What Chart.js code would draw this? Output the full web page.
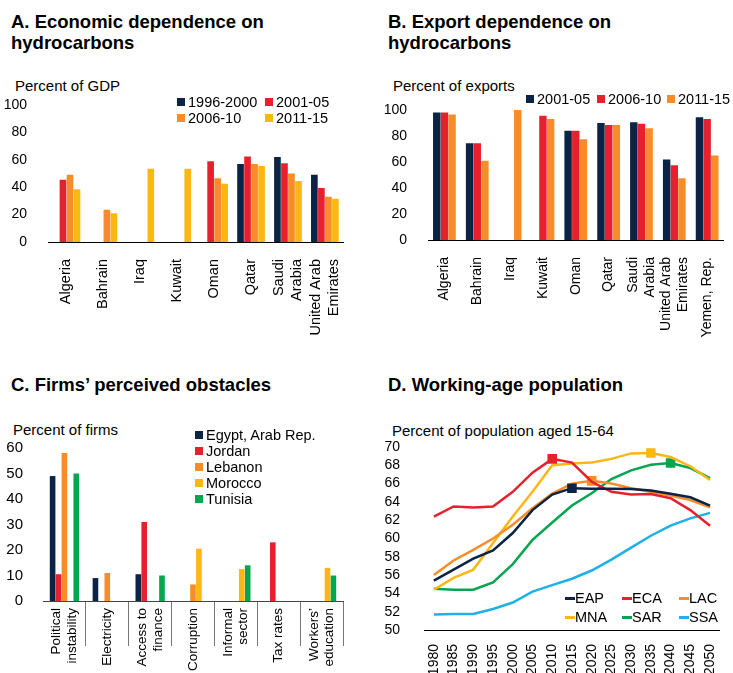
<!DOCTYPE html>
<html>
<head>
<meta charset="utf-8">
<script src="https://cdn.jsdelivr.net/npm/chart.js@4/dist/chart.umd.min.js"></script>
<style>
  body { margin: 0; background: #fff; font-family: "Liberation Sans", Arial, sans-serif; color: #000; }
  #page { position: relative; width: 733px; height: 673px; overflow: hidden; }
  .box { position: absolute; }
  .title { position: absolute; font-weight: bold; font-size: 18.5px; line-height: 21px; white-space: nowrap; }
  .unit { position: absolute; font-size: 15px; line-height: 18px; white-space: nowrap; }
  .lg { position: absolute; font-size: 14.5px; line-height: 18px; white-space: nowrap; padding-left: 11px; }
  .lg i { position: absolute; left: 0; top: 5px; width: 8px; height: 8px; }
  .lg.line { padding-left: 10px; }
  .lg.line i { top: 8px; width: 10px; height: 3px; }
</style>
</head>
<body>
<div id="page">
  <div class="title" style="left:11px;top:11px">A. Economic dependence on<br>hydrocarbons</div>
  <div class="title" style="left:388px;top:11px">B. Export dependence on<br>hydrocarbons</div>
  <div class="title" style="left:11px;top:374px">C. Firms’ perceived obstacles</div>
  <div class="title" style="left:388px;top:374px">D. Working-age population</div>

  <div class="unit" style="left:15px;top:77px">Percent of GDP</div>
  <div class="unit" style="left:393px;top:77px">Percent of exports</div>
  <div class="unit" style="left:13px;top:421px">Percent of firms</div>
  <div class="unit" style="left:392px;top:422px">Percent of population aged 15-64</div>

  <div class="box" style="left:0;top:60px"><canvas id="chartA" width="370" height="300"></canvas></div>
  <div class="box" style="left:375px;top:60px"><canvas id="chartB" width="358" height="300"></canvas></div>
  <div class="box" style="left:0;top:415px"><canvas id="chartC" width="370" height="258"></canvas></div>
  <div class="box" style="left:375px;top:415px"><canvas id="chartD" width="358" height="258"></canvas></div>
</div>
<script>
// A. Economic dependence on hydrocarbons (percent of GDP)
const gdpCountries = ['Algeria', 'Bahrain', 'Iraq', 'Kuwait', 'Oman', 'Qatar', ['Saudi', 'Arabia'], ['United Arab', 'Emirates']];
const gdpPeriods = ['1996-2000', '2001-05', '2006-10', '2011-15'];
const gdp1996 = [null, null, null, null, null, 57, 62, 49];
const gdp2001 = [45.5, null, null, null, 59, 62.5, 57.5, 39.5];
const gdp2006 = [49, 23.5, null, null, 46.5, 57, 50, 33];
const gdp2011 = [38.5, 21, 53.5, 53.5, 42.5, 55.5, 44.5, 31.5];

// B. Export dependence on hydrocarbons (percent of exports)
const expCountries = ['Algeria', 'Bahrain', 'Iraq', 'Kuwait', 'Oman', 'Qatar', ['Saudi', 'Arabia'], ['United Arab', 'Emirates'], 'Yemen, Rep.'];
const expPeriods = ['2001-05', '2006-10', '2011-15'];
const exp2001 = [98, 74.5, null, null, 84, 90, 90.5, 62, 94.5];
const exp2006 = [98, 74.5, null, 95.5, 84, 88.5, 89.5, 57.5, 93];
const exp2011 = [96.5, 61, 100, 93, 77.5, 88.5, 86, 47.5, 65];

// C. Firms' perceived obstacles (percent of firms)
const obstacles = [['Political', 'instability'], 'Electricity', ['Access to', 'finance'], 'Corruption', ['Informal', 'sector'], 'Tax rates', ['Workers’', 'education']];
const firmCountries = ['Egypt, Arab Rep.', 'Jordan', 'Lebanon', 'Morocco', 'Tunisia'];
const egypt = [49, 9, 10.5, null, null, null, null];
const jordan = [10.5, null, 31, null, null, 23, null];
const lebanon = [58, 11, null, 6.5, null, null, null];
const morocco = [null, null, null, 20.5, 12.5, null, 13];
const tunisia = [50, null, 10, null, 14, null, 10];

// D. Working-age population (percent of population aged 15-64)
const years = ['1980', '1985', '1990', '1995', '2000', '2005', '2010', '2015', '2020', '2025', '2030', '2035', '2040', '2045', '2050'];
const regions = ['EAP', 'ECA', 'LAC', 'MNA', 'SAR', 'SSA'];
const eap = [55.4, 56.6, 57.8, 58.7, 60.6, 63.1, 64.8, 65.5, 65.45, 65.45, 65.4, 65.25, 64.9, 64.5, 63.6];
const eca = [62.4, 63.5, 63.4, 63.5, 65.1, 67.2, 68.7, 68.3, 66.2, 65.1, 64.8, 64.85, 64.4, 63.1, 61.4];
const lac = [56.0, 57.6, 58.75, 60.0, 61.5, 63.3, 64.9, 66.0, 66.3, 66.0, 65.5, 65.1, 64.7, 64.2, 63.4];
const mna = [54.4, 55.7, 56.6, 59.5, 62.4, 65.1, 68.0, 68.2, 68.3, 68.7, 69.3, 69.35, 68.9, 67.9, 66.4];
const sar = [54.5, 54.4, 54.4, 55.2, 57.2, 59.85, 61.75, 63.6, 64.95, 66.5, 67.45, 68.05, 68.25, 67.7, 66.6];
const ssa = [51.7, 51.75, 51.75, 52.3, 53.0, 54.2, 54.9, 55.6, 56.5, 57.7, 59.0, 60.3, 61.4, 62.2, 62.8];
const peakYears = ['2015', '2010', '2020', '2035', '2040', null];

const NAVY = '#0b2345', RED = '#e8202e', ORANGE = '#f68d2a', YELLOW = '#fcb714', GREEN = '#06a550', BLUE = '#1eb0e6';

Chart.defaults.font.family = '"Liberation Sans", Arial, sans-serif';
Chart.defaults.color = '#000';
Chart.defaults.animation = false;
Chart.defaults.plugins.legend.display = false;
Chart.defaults.plugins.tooltip.enabled = false;

// rotated multi-line labels: centre the block of lines on the tick
const centerLines = {
  id: 'centerLines',
  beforeDraw(chart) {
    chart.scales.x.getLabelItems().forEach(it => {
      if (Array.isArray(it.label) && !it._done) {
        it.options.translation[0] -= (it.label.length - 1) * it.font.lineHeight / 2;
        it._done = true;
      }
    });
  }
};

const page = document.getElementById('page');
function legend(names, colors, spots, line) {
  names.forEach((name, i) => {
    const d = document.createElement('div');
    d.className = line ? 'lg line' : 'lg';
    d.style.left = spots[i][0] + 'px';
    d.style.top = (spots[i][1] - 9) + 'px';
    d.innerHTML = '<i style="background:' + colors[i] + '"></i>' + name;
    page.appendChild(d);
  });
}

function barChart(id, labels, names, series, colors, o) {
  return new Chart(document.getElementById(id), {
    type: 'bar',
    data: {
      labels: labels,
      datasets: series.map((s, i) => ({
        label: names[i], data: s, backgroundColor: colors[i],
        categoryPercentage: o.cat, barPercentage: o.bar
      }))
    },
    options: {
      responsive: false,
      layout: { padding: o.pad },
      scales: {
        x: {
          grid: o.xgrid || { display: false },
          border: { display: true, color: o.axisColor || '#000', width: 1 },
          ticks: { autoSkip: false, minRotation: 90, maxRotation: 90, padding: o.tickPad, font: { size: o.xfont, lineHeight: o.xlh || 1.2 } },
          afterFit: s => { s.height = o.xh; }
        },
        y: {
          min: 0, max: o.max,
          grid: { display: false },
          border: { display: false },
          ticks: { autoSkip: false, stepSize: o.step, padding: o.ypad, font: { size: o.yfont } },
          afterFit: s => { s.width = o.yw; }
        }
      }
    },
    plugins: [centerLines]
  });
}

barChart('chartA', gdpCountries, gdpPeriods, [gdp1996, gdp2001, gdp2006, gdp2011], [NAVY, RED, ORANGE, YELLOW],
  { cat: 0.76, bar: 0.95, pad: { top: 45, right: 21, left: 0, bottom: 0 }, xh: 118, yw: 48, max: 100, step: 20,
    tickPad: 9, xfont: 14.5, yfont: 14, ypad: 13 });
legend(gdpPeriods, [NAVY, RED, ORANGE, YELLOW], [[177, 102], [265, 102], [177, 118], [265, 118]]);

barChart('chartB', expCountries, expPeriods, [exp2001, exp2006, exp2011], [NAVY, RED, ORANGE],
  { cat: 0.7, bar: 0.97, pad: { top: 50, right: 1, left: 0, bottom: 0 }, xh: 120, yw: 53, max: 100, step: 20,
    tickPad: 9, xfont: 14, yfont: 14, ypad: 13 });
legend(expPeriods, [NAVY, RED, ORANGE], [[526, 99], [597, 99], [667, 99]]);

barChart('chartC', obstacles, firmCountries, [egypt, jordan, lebanon, morocco, tunisia], [NAVY, RED, ORANGE, YELLOW, GREEN],
  { cat: 0.69, bar: 0.95, pad: { top: 33, right: 27, left: 0, bottom: 0 }, xh: 72, yw: 43, max: 60, step: 10,
    tickPad: -38, xfont: 13.5, xlh: 1.15, yfont: 15, ypad: 12, axisColor: '#444',
    xgrid: {
      display: true, drawOnChartArea: false, drawTicks: true, tickLength: 45, offset: true,
      color: ctx => ctx.index === 0 ? 'rgba(0,0,0,0)' : (ctx.index === obstacles.length ? '#222' : '#777'),
      lineWidth: ctx => ctx.index === obstacles.length ? 2 : 1
    } });
legend(firmCountries, [NAVY, RED, ORANGE, YELLOW, GREEN], [[195, 435], [195, 451], [195, 467], [195, 483], [195, 499]]);

const lineSeries = [eap, eca, lac, mna, sar, ssa];
const lineColors = [NAVY, RED, ORANGE, YELLOW, GREEN, BLUE];
new Chart(document.getElementById('chartD'), {
  type: 'line',
  data: {
    labels: years,
    datasets: lineSeries.map((s, i) => ({
      label: regions[i], data: s, borderColor: lineColors[i], backgroundColor: lineColors[i],
      borderWidth: 2.5, tension: 0, pointStyle: 'rect',
      pointRadius: years.map(y => y === peakYears[i] ? 5 : 0)
    }))
  },
  options: {
    responsive: false,
    layout: { padding: { top: 32, right: 5, left: 0, bottom: 0 } },
    scales: {
      x: {
        offset: true,
        grid: { display: false },
        border: { display: true, color: '#000', width: 1 },
        ticks: { autoSkip: false, minRotation: 90, maxRotation: 90, padding: 6, font: { size: 14 } },
        afterFit: s => { s.height = 43; }
      },
      y: {
        min: 50, max: 70,
        grid: { display: false },
        border: { display: false },
        ticks: { autoSkip: false, stepSize: 2, padding: 16, font: { size: 14 } },
        afterFit: s => { s.width = 49; }
      }
    }
  }
});
legend(regions, lineColors, [[565, 598], [622, 598], [679, 598], [565, 617], [622, 617], [679, 617]], true);
</script>
</body>
</html>
